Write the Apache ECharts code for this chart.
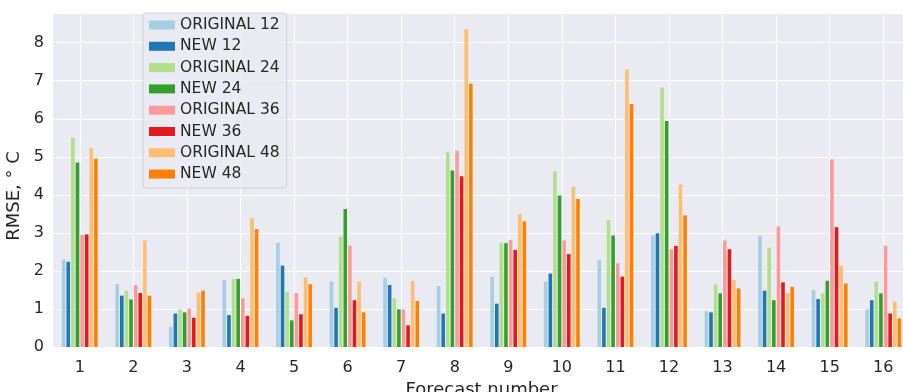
<!DOCTYPE html>
<html>
<head>
<meta charset="utf-8">
<script src="https://cdn.jsdelivr.net/npm/echarts@6/dist/echarts.min.js"></script>
<style>
  html, body { margin: 0; padding: 0; background: #fff; }
  #chart { width: 903px; height: 392px; }
</style>
</head>
<body>
<div id="chart"></div>
<script>
// forecast numbers on the x axis
var forecasts = ['1', '2', '3', '4', '5', '6', '7', '8', '9', '10', '11', '12', '13', '14', '15', '16'];

// RMSE per forecast, one list per series
var original12 = [2.30, 1.65, 0.53, 1.76, 2.74, 1.72, 1.82, 1.60, 1.85, 1.72, 2.29, 2.93, 0.94, 2.92, 1.50, 0.99];
var new12      = [2.24, 1.35, 0.88, 0.84, 2.14, 1.03, 1.63, 0.88, 1.14, 1.93, 1.03, 2.99, 0.91, 1.48, 1.26, 1.23];
var original24 = [5.50, 1.48, 0.99, 1.79, 1.45, 2.90, 1.28, 5.12, 2.74, 4.62, 3.34, 6.82, 1.65, 2.61, 1.41, 1.72];
var new24      = [4.85, 1.25, 0.91, 1.79, 0.70, 3.63, 0.99, 4.64, 2.73, 3.98, 2.93, 5.94, 1.41, 1.23, 1.74, 1.41];
var original36 = [2.95, 1.63, 1.01, 1.28, 1.42, 2.66, 0.99, 5.16, 2.81, 2.80, 2.20, 2.57, 2.80, 3.17, 4.93, 2.66];
var new36      = [2.96, 1.42, 0.77, 0.82, 0.86, 1.23, 0.57, 4.49, 2.55, 2.44, 1.85, 2.66, 2.57, 1.70, 3.15, 0.88];
var original48 = [5.23, 2.80, 1.43, 3.39, 1.83, 1.72, 1.73, 8.36, 3.49, 4.22, 7.30, 4.27, 1.76, 1.42, 2.14, 1.19];
var new48      = [4.95, 1.35, 1.48, 3.10, 1.65, 0.91, 1.21, 6.92, 3.30, 3.89, 6.39, 3.46, 1.54, 1.58, 1.67, 0.75];

var seriesNames = ['ORIGINAL 12', 'NEW 12', 'ORIGINAL 24', 'NEW 24', 'ORIGINAL 36', 'NEW 36', 'ORIGINAL 48', 'NEW 48'];
var seriesData = [original12, new12, original24, new24, original36, new36, original48, new48];
var palette = ['#a6cee3', '#1f78b4', '#b2df8a', '#33a02c', '#fb9a99', '#e31a1c', '#fdbf6f', '#ff7f00'];

var FONT = 'DejaVu Sans';
var chart = echarts.init(document.getElementById('chart'));

var series = seriesNames.map(function (name, i) {
    return {
        name: name,
        type: 'bar',
        data: seriesData[i],
        barWidth: 3.6,
        barGap: '28%',
        itemStyle: { color: palette[i] },
        emphasis: { disabled: true }
    };
});

var option = {
    backgroundColor: '#fff',
    animation: false,
    textStyle: { fontFamily: FONT },
    grid: {
        left: 53,
        top: 13,
        width: 857,
        height: 334,
        outerBoundsMode: 'none',
        containLabel: false,
        show: true,
        backgroundColor: '#eaeaf2',
        borderWidth: 0
    },
    legend: {
        orient: 'vertical',
        left: 143,
        top: 13,
        padding: [4, 7, 6, 6],
        backgroundColor: 'rgba(234,234,242,0.85)',
        borderColor: '#d0d0d8',
        borderWidth: 1,
        borderRadius: 3,
        itemWidth: 26,
        itemHeight: 9,
        itemGap: 5.3,
        itemTextGap: 13,
        icon: 'rect',
        textStyle: { color: '#262626', fontFamily: FONT, fontSize: 15.5, lineHeight: 16 },
        data: seriesNames
    },
    xAxis: {
        type: 'category',
        data: forecasts,
        name: 'Forecast number',
        nameLocation: 'middle',
        nameGap: 31,
        nameTextStyle: { color: '#262626', fontFamily: FONT, fontSize: 18 },
        axisLine: { show: false },
        axisTick: { show: false, alignWithLabel: true },
        axisLabel: { color: '#262626', fontFamily: FONT, fontSize: 16, margin: 13 },
        splitLine: { show: true, alignWithLabel: true, lineStyle: { color: '#fff', width: 1 } }
    },
    yAxis: {
        type: 'value',
        min: 0,
        max: 8.78,
        interval: 1,
        name: 'RMSE, ° C',
        nameLocation: 'middle',
        nameGap: 24,
        nameTextStyle: { color: '#262626', fontFamily: FONT, fontSize: 18, padding: [0, 32, 0, 0] },
        axisLine: { show: false },
        axisTick: { show: false },
        axisLabel: { color: '#262626', fontFamily: FONT, fontSize: 16, margin: 9, showMaxLabel: false },
        splitLine: { show: true, lineStyle: { color: '#fff', width: 1 } }
    },
    series: series
};

chart.setOption(option);
</script>
</body>
</html>
